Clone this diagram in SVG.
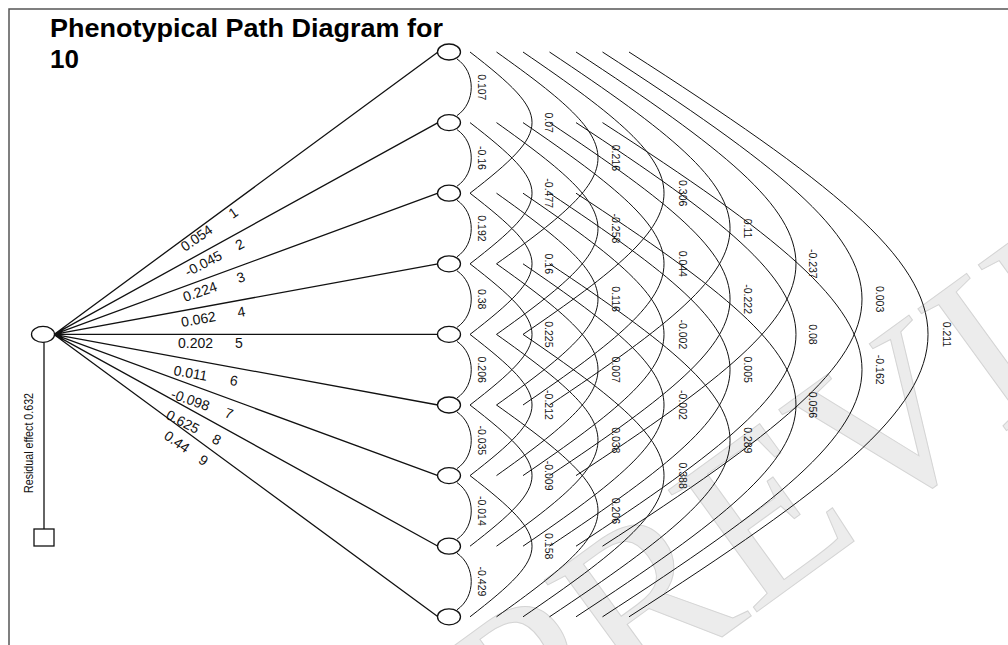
<svg xmlns="http://www.w3.org/2000/svg" width="1008" height="645" viewBox="0 0 1008 645">
<style>
.nd{fill:#fff;stroke:#111;stroke-width:1.3}
.ln{stroke:#111;stroke-width:1.3;fill:none}
.arc{stroke:#111;stroke-width:1;fill:none}
.cl{font-family:"Liberation Sans",Arial,sans-serif;font-size:10.5px;fill:#111;text-anchor:middle;dominant-baseline:central}
.pl{font-family:"Liberation Sans",Arial,sans-serif;font-size:14px;fill:#111}
.ttl{font-family:"Liberation Sans",Arial,sans-serif;font-size:26px;font-weight:bold;fill:#000}
</style>
<rect width="1008" height="645" fill="#fff"/>
<text x="524" y="781" transform="rotate(-36 524 781)" font-family="Liberation Serif,serif" font-size="230" fill="#ececec" stroke="#d4d4d4" stroke-width="1">PREVIEW</text>
<path d="M9,645 V9 H1008" fill="none" stroke="#555" stroke-width="1.5"/>
<text class="ttl" x="50" y="37" textLength="393" lengthAdjust="spacingAndGlyphs">Phenotypical Path Diagram for</text>
<text class="ttl" x="50" y="68">10</text>
<g id="connectors">
<path class="ln" d="M54,334.4L438,52M54,334.4L438,122.6M54,334.4L438,193.2M54,334.4L438,263.8M54,334.4L438,334.4M54,334.4L438,405M54,334.4L438,475.6M54,334.4L438,546.2M54,334.4L438,616.8"/>
<path class="ln" d="M44,342V529"/>
<path class="arc" d="M457,59C476,72 476,102.6 457,115.6M457,129.6C476,142.6 476,173.2 457,186.2M457,200.2C476,213.2 476,243.8 457,256.8M457,270.8C476,283.8 476,314.4 457,327.4M457,341.4C476,354.4 476,385 457,398M457,412C476,425 476,455.6 457,468.6M457,482.6C476,495.6 476,526.2 457,539.2M457,553.2C476,566.2 476,596.8 457,609.8"/>
<path class="arc" d="M470,52C552.7,116 552.7,129.2 470,193.2M470,122.6C552.7,186.6 552.7,199.8 470,263.8M470,193.2C552.7,257.2 552.7,270.4 470,334.4M470,263.8C552.7,327.8 552.7,341 470,405M470,334.4C552.7,398.4 552.7,411.6 470,475.6M470,405C552.7,469 552.7,482.2 470,546.2M470,475.6C552.7,539.6 552.7,552.8 470,616.8"/>
<path class="arc" d="M496.5,52C631.8,148 631.8,167.8 496.5,263.8M496.5,122.6C631.8,218.6 631.8,238.4 496.5,334.4M496.5,193.2C631.8,289.2 631.8,309 496.5,405M496.5,263.8C631.8,359.8 631.8,379.6 496.5,475.6M496.5,334.4C631.8,430.4 631.8,450.2 496.5,546.2M496.5,405C631.8,501 631.8,520.8 496.5,616.8"/>
<path class="arc" d="M523,52C711,180 711,206.4 523,334.4M523,122.6C711,250.6 711,277 523,405M523,193.2C711,321.2 711,347.6 523,475.6M523,263.8C711,391.8 711,418.2 523,546.2M523,334.4C711,462.4 711,488.8 523,616.8"/>
<path class="arc" d="M549.5,52C790.2,212 790.2,245 549.5,405M549.5,122.6C790.2,282.6 790.2,315.6 549.5,475.6M549.5,193.2C790.2,353.2 790.2,386.2 549.5,546.2M549.5,263.8C790.2,423.8 790.2,456.8 549.5,616.8"/>
<path class="arc" d="M576,52C869.3,244 869.3,283.6 576,475.6M576,122.6C869.3,314.6 869.3,354.2 576,546.2M576,193.2C869.3,385.2 869.3,424.8 576,616.8"/>
<path class="arc" d="M602.5,52C948.5,276 948.5,322.2 602.5,546.2M602.5,122.6C948.5,346.6 948.5,392.8 602.5,616.8"/>
<path class="arc" d="M629,52C1027.7,308 1027.7,360.8 629,616.8"/>
<g id="path-labels" class="pl">
<g transform="translate(185,252) rotate(-34.8)"><text>0.054</text><text x="58">1</text></g>
<g transform="translate(188,277) rotate(-27.6)"><text>-0.045</text><text x="57">2</text></g>
<g transform="translate(185,302) rotate(-19.2)"><text>0.224</text><text x="57">3</text></g>
<g transform="translate(182,327) rotate(-9.9)"><text>0.062</text><text x="57">4</text></g>
<g transform="translate(178,348)"><text>0.202</text><text x="57">5</text></g>
<g transform="translate(173,375) rotate(9.9)"><text>0.011</text><text x="57">6</text></g>
<g transform="translate(170,398) rotate(19.2)"><text>-0.098</text><text x="57">7</text></g>
<g transform="translate(165,418) rotate(27.6)"><text>0.625</text><text x="52">8</text></g>
<g transform="translate(163,438) rotate(34.8)"><text>0.44</text><text x="42">9</text></g>
</g>
<g id="corr-labels" class="cl">
<text transform="translate(482,87.3) rotate(90)">0.107</text>
<text transform="translate(482,157.9) rotate(90)">-0.16</text>
<text transform="translate(482,228.5) rotate(90)">0.192</text>
<text transform="translate(482,299.1) rotate(90)">0.38</text>
<text transform="translate(482,369.7) rotate(90)">0.206</text>
<text transform="translate(482,440.3) rotate(90)">-0.035</text>
<text transform="translate(482,510.9) rotate(90)">-0.014</text>
<text transform="translate(482,581.5) rotate(90)">-0.429</text>
<text transform="translate(549,122.6) rotate(90)">0.07</text>
<text transform="translate(549,193.2) rotate(90)">-0.477</text>
<text transform="translate(549,263.8) rotate(90)">0.16</text>
<text transform="translate(549,334.4) rotate(90)">0.225</text>
<text transform="translate(549,405) rotate(90)">-0.212</text>
<text transform="translate(549,475.6) rotate(90)">-0.009</text>
<text transform="translate(549,546.2) rotate(90)">0.158</text>
<text transform="translate(616,157.9) rotate(90)">0.216</text>
<text transform="translate(616,228.5) rotate(90)">-0.258</text>
<text transform="translate(616,299.1) rotate(90)">0.116</text>
<text transform="translate(616,369.7) rotate(90)">0.007</text>
<text transform="translate(616,440.3) rotate(90)">0.038</text>
<text transform="translate(616,510.9) rotate(90)">0.206</text>
<text transform="translate(683,193.2) rotate(90)">0.306</text>
<text transform="translate(683,263.8) rotate(90)">0.044</text>
<text transform="translate(683,334.4) rotate(90)">-0.002</text>
<text transform="translate(683,405) rotate(90)">-0.002</text>
<text transform="translate(683,475.6) rotate(90)">0.388</text>
<text transform="translate(748,228.5) rotate(90)">0.11</text>
<text transform="translate(748,299.1) rotate(90)">-0.222</text>
<text transform="translate(748,369.7) rotate(90)">0.005</text>
<text transform="translate(748,440.3) rotate(90)">0.289</text>
<text transform="translate(813,263.8) rotate(90)">-0.237</text>
<text transform="translate(813,334.4) rotate(90)">0.08</text>
<text transform="translate(813,405) rotate(90)">0.056</text>
<text transform="translate(880,299.1) rotate(90)">0.003</text>
<text transform="translate(880,369.7) rotate(90)">-0.162</text>
<text transform="translate(947,334.4) rotate(90)">0.211</text>
</g>
<text transform="translate(33,493) rotate(-90)" font-family="Liberation Sans,Arial,sans-serif" font-size="13" fill="#111" textLength="100" lengthAdjust="spacingAndGlyphs">Residual effect  0.632</text>
</g>
<g id="node-y"><ellipse class="nd" cx="43" cy="334.4" rx="11.5" ry="8"/></g>
<g id="node-residual"><rect class="nd" x="34" y="529" width="20" height="17"/></g>
<g id="node-1"><ellipse class="nd" cx="449" cy="52" rx="11.5" ry="8"/></g>
<g id="node-2"><ellipse class="nd" cx="449" cy="122.6" rx="11.5" ry="8"/></g>
<g id="node-3"><ellipse class="nd" cx="449" cy="193.2" rx="11.5" ry="8"/></g>
<g id="node-4"><ellipse class="nd" cx="449" cy="263.8" rx="11.5" ry="8"/></g>
<g id="node-5"><ellipse class="nd" cx="449" cy="334.4" rx="11.5" ry="8"/></g>
<g id="node-6"><ellipse class="nd" cx="449" cy="405" rx="11.5" ry="8"/></g>
<g id="node-7"><ellipse class="nd" cx="449" cy="475.6" rx="11.5" ry="8"/></g>
<g id="node-8"><ellipse class="nd" cx="449" cy="546.2" rx="11.5" ry="8"/></g>
<g id="node-9"><ellipse class="nd" cx="449" cy="616.8" rx="11.5" ry="8"/></g>
</svg>
